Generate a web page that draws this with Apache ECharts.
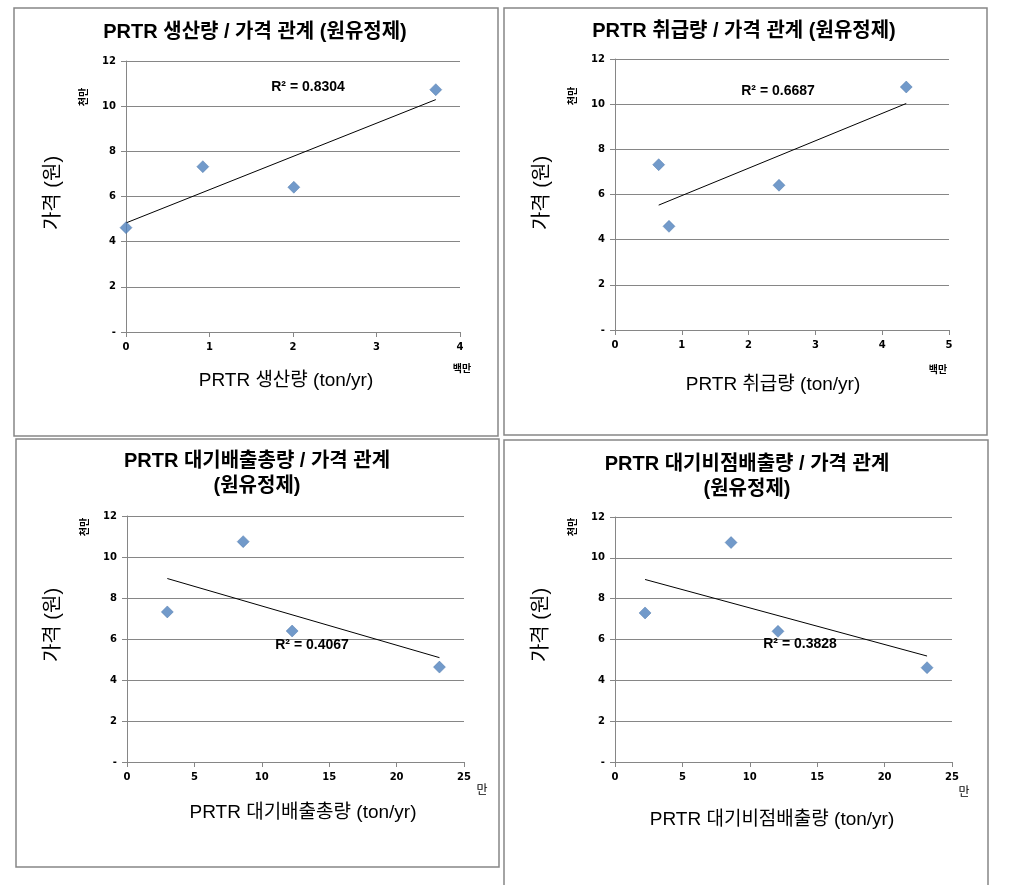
<!DOCTYPE html>
<html>
<head>
<meta charset="utf-8">
<script src="https://cdn.jsdelivr.net/npm/echarts@6/dist/echarts.min.js"></script>
</head>
<body style="margin:0;background:#fff;">
<div id="main" style="width:1017px;height:885px;"></div>
<script type="text/javascript">
// 데이터 - x: 단위 백만/만 ton/yr, y: 단위 천만 원
var p1X = [0, 0.92, 2.01, 3.71];
var p1Y = [4.62, 7.32, 6.41, 10.73];
var trend1 = [[0, 4.83], [3.71, 10.29]];

var p2X = [0.654, 0.808, 2.455, 4.36];
var p2Y = [7.32, 4.59, 6.41, 10.76];
var trend2 = [[0.654, 5.53], [4.36, 10.03]];

var p3X = [2.99, 8.62, 12.25, 23.18];
var p3Y = [7.32, 10.75, 6.39, 4.63];
var trend3 = [[2.99, 8.95], [23.18, 5.09]];

var p4X = [2.23, 8.61, 12.09, 23.15];
var p4Y = [7.30, 10.75, 6.40, 4.62];
var trend4 = [[2.23, 8.94], [23.15, 5.19]];

var titles = ['PRTR 생산량 / 가격 관계 (원유정제)', 'PRTR 취급량 / 가격 관계 (원유정제)',
              'PRTR 대기배출총량 / 가격 관계\n(원유정제)', 'PRTR 대기비점배출량 / 가격 관계\n(원유정제)'];
var xNames = ['PRTR 생산량 (ton/yr)', 'PRTR 취급량 (ton/yr)', 'PRTR 대기배출총량 (ton/yr)', 'PRTR 대기비점배출량 (ton/yr)'];
var r2Texts = ['R² = 0.8304', 'R² = 0.6687', 'R² = 0.4067', 'R² = 0.3828'];
var xUnits = ['백만', '백만', '만', '만'];
var xMax = [4, 5, 25, 25];
var xStep = [1, 1, 5, 5];

var KR = "'Liberation Sans', 'Noto Sans CJK KR', sans-serif";
var TICK = "'DejaVu Sans', 'Noto Sans CJK KR', sans-serif";

// 각 패널 위치 (픽셀)
var grids = [
    {left: 126, top: 61, width: 334, height: 271},
    {left: 615, top: 59, width: 334, height: 271},
    {left: 127, top: 516, width: 337, height: 246},
    {left: 615, top: 517, width: 337, height: 245}
];
var boxes = [
    {x: 14, y: 8, w: 484, h: 428},
    {x: 504, y: 8, w: 483, h: 427},
    {x: 16, y: 439, w: 483, h: 428},
    {x: 504, y: 440, w: 484, h: 450}
];
var titlePos = [[255, 32], [744, 31], [257, 474], [747, 477]];
var xNamePos = [[286, 381], [773, 385], [303, 813], [772, 820]];
var yNamePos = [[53, 193], [542, 193], [53, 625], [541, 625]];
var unitYPos = [[84, 97], [573, 96], [85, 527], [573, 527]];
var unitXPos = [[462, 369], [938, 370], [482, 791], [964, 793]];
var r2Pos = [[308, 87], [778, 91], [312, 645], [800, 644]];

var pts = [[p1X, p1Y], [p2X, p2Y], [p3X, p3Y], [p4X, p4Y]];
var trends = [trend1, trend2, trend3, trend4];

var gridOpt = [], xAxes = [], yAxes = [], series = [], graphics = [];

for (var i = 0; i < 4; i++) {
    gridOpt.push({left: grids[i].left, top: grids[i].top, width: grids[i].width, height: grids[i].height,
        containLabel: false, outerBoundsMode: 'none'});
    xAxes.push({
        type: 'value', gridIndex: i, min: 0, max: xMax[i], interval: xStep[i],
        axisLine: {show: true, lineStyle: {color: '#868686', width: 1}},
        axisTick: {show: true, inside: false, length: 5, lineStyle: {color: '#868686'}},
        axisLabel: {color: '#000', fontFamily: TICK, fontWeight: 'bold', fontSize: 10, margin: 10},
        splitLine: {show: false}
    });
    yAxes.push({
        type: 'value', gridIndex: i, min: 0, max: 12, interval: 2,
        axisLine: {show: true, lineStyle: {color: '#868686', width: 1}},
        axisTick: {show: true, inside: false, length: 5, lineStyle: {color: '#868686'}},
        axisLabel: {color: '#000', fontFamily: TICK, fontWeight: 'bold', fontSize: 10, margin: 10,
            formatter: function (v) { return v === 0 ? '-' : v; }},
        splitLine: {show: true, lineStyle: {color: '#868686', width: 1}}
    });
    var d = [];
    for (var k = 0; k < pts[i][0].length; k++) d.push([pts[i][0][k], pts[i][1][k]]);
    series.push({
        type: 'line', xAxisIndex: i, yAxisIndex: i, data: trends[i],
        showSymbol: false, lineStyle: {color: '#000', width: 1}, z: 2
    });
    series.push({
        type: 'scatter', xAxisIndex: i, yAxisIndex: i, data: d,
        symbol: 'diamond', symbolSize: 12,
        itemStyle: {color: '#4F81BD', borderColor: '#3b6aa0', borderWidth: 0.5}, z: 3
    });

    // 테두리
    graphics.push({type: 'rect', shape: {x: boxes[i].x, y: boxes[i].y, width: boxes[i].w, height: boxes[i].h},
        style: {fill: null, stroke: '#868686', lineWidth: 1.5}, silent: true});
    // 제목
    graphics.push({type: 'text', x: titlePos[i][0], y: titlePos[i][1],
        style: {text: titles[i], fill: '#000', font: 'bold 20px ' + KR, align: 'center', verticalAlign: 'middle', lineHeight: 25}});
    // x축 이름
    graphics.push({type: 'text', x: xNamePos[i][0], y: xNamePos[i][1],
        style: {text: xNames[i], fill: '#000', font: '19px ' + KR, align: 'center', verticalAlign: 'middle'}});
    // y축 이름
    graphics.push({type: 'text', x: yNamePos[i][0], y: yNamePos[i][1], rotation: Math.PI / 2,
        style: {text: '가격 (원)', fill: '#000', font: '20px ' + KR, align: 'center', verticalAlign: 'middle'}});
    // 단위
    graphics.push({type: 'text', x: unitYPos[i][0], y: unitYPos[i][1], rotation: Math.PI / 2,
        style: {text: '천만', fill: '#000', font: 'bold 10px ' + KR, align: 'center', verticalAlign: 'middle'}});
    graphics.push({type: 'text', x: unitXPos[i][0], y: unitXPos[i][1],
        style: {text: xUnits[i], fill: '#000', font: (i < 2 ? 'bold 10px ' : '12px ') + KR, align: 'center', verticalAlign: 'middle'}});
    // R²
    graphics.push({type: 'text', x: r2Pos[i][0], y: r2Pos[i][1],
        style: {text: r2Texts[i], fill: '#000', font: 'bold 14px ' + KR, align: 'center', verticalAlign: 'middle'}, z: 10});
}

var myChart = echarts.init(document.getElementById('main'));
var option = {
    animation: false,
    backgroundColor: '#fff',
    grid: gridOpt,
    xAxis: xAxes,
    yAxis: yAxes,
    series: series,
    graphic: graphics
};
myChart.setOption(option);
</script>
</body>
</html>
